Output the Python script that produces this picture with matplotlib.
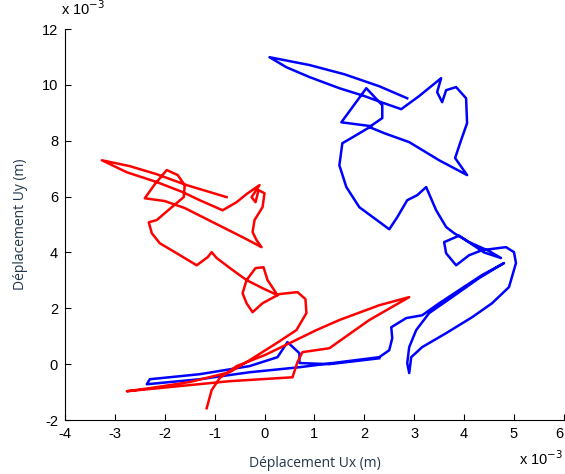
import matplotlib
matplotlib.use("Agg")
from matplotlib import pyplot as plt
import numpy as np

# trajectories, in units of 1e-3 m
red_x = [-0.76, -1.56, -2.16, -2.70, -3.26, -2.76, -2.16, -1.64, -1.30, -0.84,
         -0.56, -0.36, -0.10, -0.26, -0.18, -0.12, 0.00, -0.04, -0.20, -0.24,
         -0.16, -0.06, -0.40, -0.80, -1.20, -1.60, -2.00, -2.40, -2.20, -1.96,
         -1.74, -1.60, -1.62, -1.86, -2.16, -2.32, -2.26, -2.10, -1.76, -1.36,
         -1.14, -1.06, -0.96, -0.64, -0.36, -0.04, 0.26, 0.06, -0.02, -0.18,
         -0.36, -0.44, -0.36, -0.24, -0.04, 0.30, 0.66, 0.82, 0.84, 0.64,
         0.24, -0.30, -0.70, -1.50, -2.30, -2.76, -1.90, -0.70, 0.56, 0.66,
         0.76, 1.30, 2.10, 2.90, 2.30, 1.50, 1.04, 0.50, 0.00, -0.56,
         -0.90, -1.06, -1.16]
red_y = [5.98, 6.41, 6.80, 7.09, 7.30, 6.87, 6.52, 6.16, 5.87, 5.51,
         5.80, 6.09, 6.41, 5.98, 5.80, 6.23, 6.12, 5.62, 5.16, 4.73,
         4.44, 4.19, 4.51, 4.87, 5.23, 5.59, 5.84, 5.94, 6.44, 6.95,
         6.77, 6.41, 5.98, 5.62, 5.16, 5.08, 4.69, 4.33, 3.97, 3.54,
         3.83, 4.01, 3.80, 3.37, 3.01, 2.72, 2.47, 3.01, 3.47, 3.44,
         3.01, 2.54, 2.18, 1.86, 2.18, 2.51, 2.58, 2.33, 1.83, 1.22,
         0.75, 0.14, -0.29, -0.64, -0.86, -0.97, -0.82, -0.61, -0.47, 0.07,
         0.43, 0.57, 1.58, 2.40, 2.11, 1.58, 1.22, 0.75, 0.32, -0.07,
         -0.50, -0.93, -1.58]

blue_x = [2.86, 2.30, 1.60, 0.90, 0.10, 0.44, 0.90, 1.50, 2.00, 2.40,
          2.74, 3.10, 3.54, 3.46, 3.56, 3.64, 3.84, 4.04, 4.06, 3.94,
          3.82, 4.06, 3.50, 2.90, 2.40, 2.10, 2.36, 2.36, 2.04, 1.54,
          2.14, 1.80, 1.56, 1.50, 1.64, 1.90, 2.50, 2.66, 2.86, 3.06,
          3.24, 3.44, 3.64, 3.80, 4.10, 4.50, 4.74, 4.40, 3.90, 3.60,
          3.64, 3.84, 4.10, 4.36, 4.84, 5.00, 5.04, 4.90, 4.56, 4.16,
          3.64, 3.16, 2.94, 2.90, 2.86, 2.90, 3.04, 3.30, 3.76, 4.30,
          4.80, 4.36, 3.90, 3.50, 3.16, 2.84, 2.54, 2.56, 2.50, 2.30,
          1.50, 0.70, -0.30, -1.30, -2.36, -2.30, -1.30, -0.30, 0.26, 0.46,
          0.70, 0.70, 1.30, 2.30]
blue_y = [9.52, 9.95, 10.38, 10.71, 10.99, 10.63, 10.28, 9.88, 9.60, 9.34,
          9.13, 9.60, 10.24, 9.74, 9.38, 9.81, 9.92, 9.52, 8.63, 8.02,
          7.38, 6.77, 7.30, 7.95, 8.27, 8.49, 8.81, 9.27, 9.88, 8.66,
          8.52, 8.16, 7.91, 7.12, 6.34, 5.62, 4.83, 5.26, 5.87, 6.05,
          6.34, 5.51, 4.91, 4.69, 4.37, 4.05, 3.80, 4.00, 4.60, 4.37,
          3.97, 3.54, 3.90, 4.08, 4.19, 4.01, 3.62, 2.76, 2.18, 1.68,
          1.11, 0.61, 0.25, -0.32, 0.04, 0.61, 1.22, 1.83, 2.40, 3.08,
          3.62, 3.19, 2.65, 2.18, 1.75, 1.65, 1.32, 0.93, 0.50, 0.25,
          0.07, -0.11, -0.29, -0.54, -0.72, -0.54, -0.36, -0.07, 0.25, 0.79,
          0.39, 0.04, 0.00, 0.21]

x_ticks = np.arange(-4, 7, 1)
y_ticks = np.arange(-2, 13, 2)

plt.rcParams['font.family'] = ['Liberation Sans', 'DejaVu Sans']

fig = plt.figure(figsize=(5.65, 4.74), dpi=100)
ax = fig.add_axes([0.115, 0.1139, 0.883, 0.8249])

ax.plot(blue_x, blue_y, color='blue', lw=1.8, solid_joinstyle='round')
ax.plot(red_x, red_y, color='red', lw=1.8, solid_joinstyle='round')

ax.set_xlim(-4, 6)
ax.set_ylim(-2, 12)
ax.set_xticks(x_ticks)
ax.set_yticks(y_ticks)
ax.set_xticklabels([str(v) for v in x_ticks])
ax.set_yticklabels([str(v) for v in y_ticks])
ax.tick_params(direction='in', length=4, width=0.8, labelsize=10.5, pad=5)
ax.spines['top'].set_visible(False)
ax.spines['right'].set_visible(False)
# last x label sits at the figure edge, keep it inside
ax.get_xticklabels()[-1].set_horizontalalignment('right')

lab_col = '#23364a'
ax.set_xlabel('Déplacement Ux (m)', family='Open Sans', fontsize=10,
              color=lab_col, labelpad=11)
ax.set_ylabel('Déplacement Uy (m)', family='Open Sans', fontsize=10,
              color=lab_col, labelpad=10)

fig.text(0.108, 0.962, r'x 10$^{-3}$', fontsize=10.5, ha='left', va='bottom')
fig.text(0.997, 0.012, r'x 10$^{-3}$', fontsize=10.5, ha='right', va='bottom')

fig.savefig('out.png', dpi=100)
